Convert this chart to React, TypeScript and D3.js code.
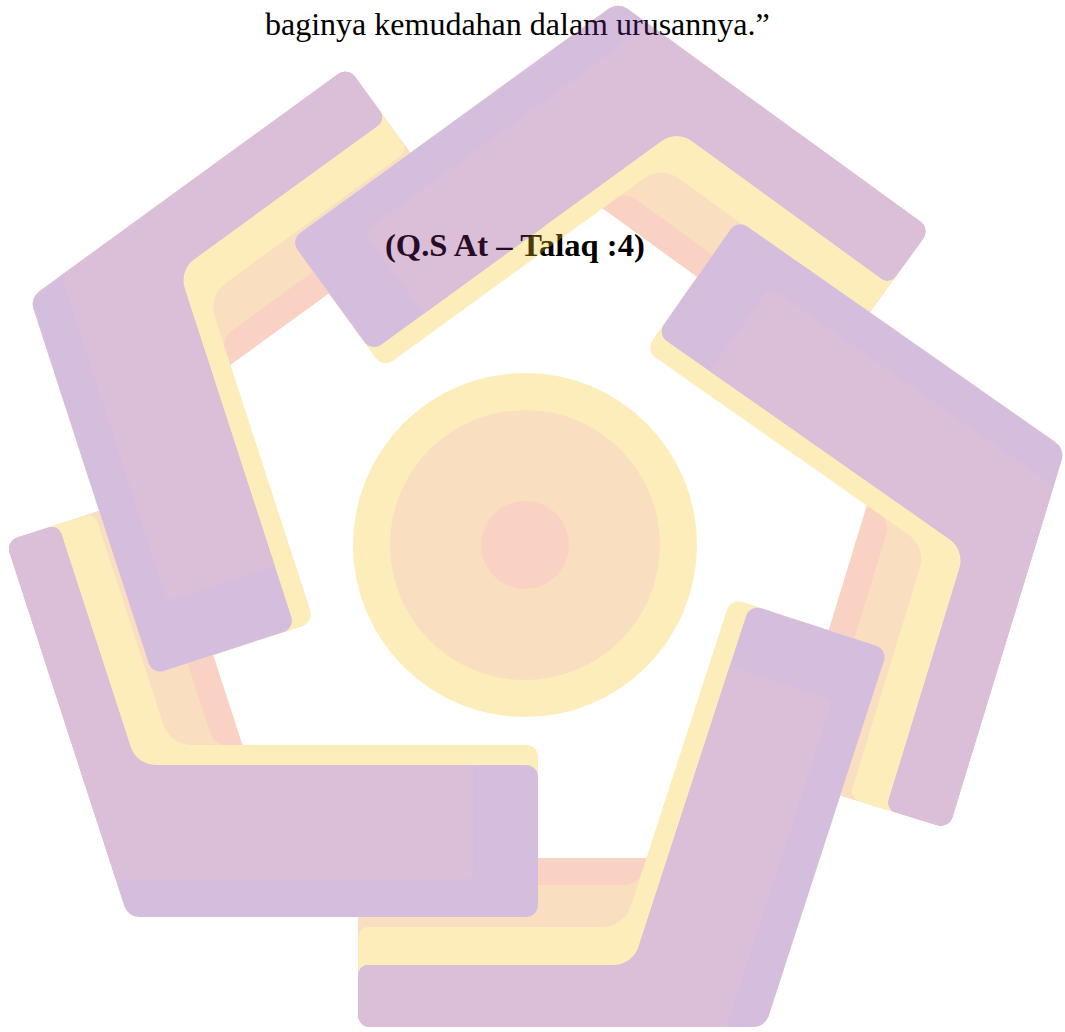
import React from 'react';
import * as d3 from 'd3';

const W = 1065;
const H = 1032;

// ---- Logo data: five arms arranged around the centre ----
const armNames = ['bottom-left', 'bottom', 'right', 'top', 'left'];
const armApexX = [128, 765, 1065, 618, 30];
const armApexY = [917, 1027, 449, 2, 298];
const armRotation = [0, -72, -145, -216, -288];
const armWideLength = [410, 397, 400, 405, 396];
const armNarrowLength = [395, 407, 397, 386, 393];
const armWidePurple = [152, 145, 140, 138, 150];
const armNarrowPurple = [55, 62, 66, 69, 65];
const drawOrder = [0, 4, 3, 2, 1];
const legAngle = 108;

// stacked stripes of each arm, bottom to top (extra thickness over the purple stripe)
const bandNames = ['pink', 'peach', 'yellow', 'purple'];
const bandColors = ['#EB6937', '#EE912D', '#F5C319', '#73268E'];
const bandWideExtra = [18, 18, 20, 0];
const bandNarrowExtra = [107, 80, 38, 0];
const bandInnerRadius = [6, 22, 30, 26];

// lighter purple inset laid on the purple stripe
const insetColor = '#872A7D';
const insetOuter = 37;
const insetEnd = 65;

// centre circle
const circleCenter = [525, 545];
const circleRadii = [172, 135, 44];
const circleColors = ['#F5C319', '#EE912D', '#EB6937'];

// the whole emblem is a faint watermark over the text
const watermarkOpacity = 0.3;

// texts
const textLines = ['baginya kemudahan dalam urusannya.\u201D', '(Q.S At \u2013 Talaq :4)'];
const textX = [265, 385];
const textY = [35, 256];
const textWeight = ['normal', 'bold'];
const textSize = [32, 32.6];

type P = [number, number];

function roundedPolygon(pts: P[], radii: number[]) {
  const p = d3.path();
  const n = pts.length;
  const last = pts[n - 1];
  const first = pts[0];
  p.moveTo((last[0] + first[0]) / 2, (last[1] + first[1]) / 2);
  for (let i = 0; i < n; i++) {
    const cur = pts[i];
    const next = pts[(i + 1) % n];
    if (radii[i] > 0) p.arcTo(cur[0], cur[1], next[0], next[1], radii[i]);
    else p.lineTo(cur[0], cur[1]);
  }
  p.closePath();
  return p.toString();
}

const a = (-legAngle * Math.PI) / 180;
const un: P = [Math.cos(a), Math.sin(a)];
const nn: P = [-un[1], un[0]];

function chevron(
  Lw: number,
  Ln: number,
  tw: number,
  tn: number,
  oo: number,
  trim: number,
  radii: number[]
) {
  const yO = -oo;
  const O: P = [-(yO * nn[1]) / nn[0], yO];
  const A: P = [Lw - trim, yO];
  const B: P = [Lw - trim, -tw];
  const I: P = [(tn + tw * nn[1]) / nn[0], -tw];
  const Ein: P = [Ln * un[0] + tn * nn[0], Ln * un[1] + tn * nn[1]];
  const Eout: P = [Ln * un[0], Ln * un[1]];
  return roundedPolygon([O, A, B, I, Ein, Eout], radii);
}

function ArmShapes({ k }: { k: number }) {
  const Lw = armWideLength[k];
  const Ln = armNarrowLength[k];
  const tw = armWidePurple[k];
  const tn = armNarrowPurple[k];
  return (
    <g>
      {bandNames.map((b, i) => (
        <path
          key={b}
          d={chevron(Lw, Ln, tw + bandWideExtra[i], tn + bandNarrowExtra[i], 0, 0, [
            16,
            12,
            12,
            bandInnerRadius[i],
            10,
            12,
          ])}
          fill={bandColors[i]}
        />
      ))}
      <path
        d={chevron(Lw, Ln, tw, tn, insetOuter, insetEnd, [0, 10, 0, bandInnerRadius[3], 10, 12])}
        fill={insetColor}
      />
    </g>
  );
}

export default function App() {
  const armTransform = (k: number) =>
    `translate(${armApexX[k]},${armApexY[k]}) rotate(${armRotation[k]})`;
  const first = drawOrder[0];
  return (
    <svg
      width={W}
      height={H}
      viewBox={`0 0 ${W} ${H}`}
      style={{ position: 'absolute', left: 0, top: 0, display: 'block', background: '#fff' }}
    >
      <defs>
        <clipPath id="wideEndClip" clipPathUnits="userSpaceOnUse">
          <rect x={armWideLength[first] * 0.5} y={-260} width={armWideLength[first]} height={320} />
        </clipPath>
      </defs>
      <rect x={0} y={0} width={W} height={H} fill="#ffffff" />
      {textLines.map((t, i) => (
        <text
          key={i}
          x={textX[i]}
          y={textY[i]}
          fontFamily="'Liberation Serif', 'Times New Roman', serif"
          fontSize={textSize[i]}
          fontWeight={textWeight[i]}
          fill="#000"
        >
          {t}
        </text>
      ))}
      <g opacity={watermarkOpacity}>
        {circleRadii.map((r, i) => (
          <circle key={i} cx={circleCenter[0]} cy={circleCenter[1]} r={r} fill={circleColors[i]} />
        ))}
        {drawOrder.map((k) => (
          <g key={armNames[k]} transform={armTransform(k)}>
            <ArmShapes k={k} />
          </g>
        ))}
        <g transform={armTransform(first)}>
          <g clipPath="url(#wideEndClip)">
            <ArmShapes k={first} />
          </g>
        </g>
      </g>
    </svg>
  );
}
